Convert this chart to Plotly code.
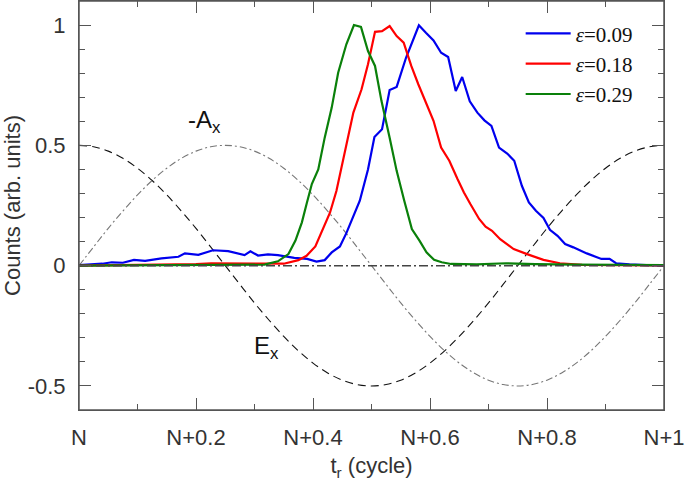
import plotly.graph_objects as go

# ---- data ----
blue_x = [0.00, 0.02, 0.04, 0.056, 0.075, 0.094, 0.113, 0.141, 0.17, 0.181, 0.204, 0.229, 0.255,
          0.283, 0.293, 0.306, 0.323, 0.34, 0.368, 0.39, 0.406, 0.42, 0.432, 0.446, 0.457, 0.48,
          0.494, 0.505, 0.518, 0.531, 0.543, 0.559, 0.581, 0.593, 0.606, 0.619, 0.631, 0.644,
          0.655, 0.668, 0.681, 0.693, 0.705, 0.718, 0.732, 0.744, 0.757, 0.769, 0.781, 0.794,
          0.805, 0.818, 0.831, 0.845, 0.868, 0.893, 0.907, 0.918, 0.941, 0.97, 1.0]
blue_y = [0.002, 0.004, 0.008, 0.014, 0.012, 0.024, 0.02, 0.03, 0.037, 0.051, 0.045, 0.064, 0.06,
          0.044, 0.06, 0.042, 0.047, 0.044, 0.032, 0.028, 0.017, 0.023, 0.055, 0.08, 0.135, 0.27,
          0.40, 0.535, 0.567, 0.73, 0.743, 0.864, 0.999, 0.968, 0.936, 0.885, 0.867, 0.726,
          0.784, 0.683, 0.636, 0.604, 0.581, 0.491, 0.466, 0.436, 0.332, 0.263, 0.228, 0.198,
          0.149, 0.124, 0.09, 0.076, 0.051, 0.028, 0.028, 0.01, 0.005, 0.002, 0.0]

red_x = [0.0, 0.1, 0.2, 0.226, 0.31, 0.35, 0.375, 0.389, 0.404, 0.418, 0.429, 0.44, 0.454, 0.469,
         0.483, 0.494, 0.506, 0.518, 0.531, 0.543, 0.555, 0.568, 0.58, 0.593, 0.606, 0.619, 0.633,
         0.647, 0.658, 0.669, 0.684, 0.695, 0.706, 0.72, 0.743, 0.766, 0.794, 0.822, 0.86, 1.0]
red_y = [0.0, 0.002, 0.006, 0.01, 0.01, 0.008, 0.023, 0.041, 0.08, 0.159, 0.22, 0.31, 0.463, 0.636,
         0.733, 0.837, 0.972, 0.975, 0.996, 0.954, 0.927, 0.83, 0.754, 0.678, 0.602, 0.491, 0.436,
         0.36, 0.304, 0.256, 0.194, 0.162, 0.145, 0.11, 0.069, 0.048, 0.024, 0.01, 0.003, 0.001]

green_x = [0.0, 0.3, 0.317, 0.34, 0.358, 0.37, 0.381, 0.389, 0.398, 0.409, 0.42, 0.432, 0.443,
           0.457, 0.47, 0.482, 0.494, 0.506, 0.517, 0.531, 0.543, 0.556, 0.569, 0.582, 0.594,
           0.607, 0.62, 0.636, 0.68, 0.73, 0.78, 0.85, 0.92, 1.0]
green_y = [0.0, 0.002, 0.004, 0.018, 0.048, 0.104, 0.18, 0.256, 0.339, 0.40, 0.532, 0.657, 0.802,
           0.92, 1.0, 0.992, 0.892, 0.83, 0.685, 0.532, 0.394, 0.27, 0.152, 0.104, 0.055,
           0.024, 0.014, 0.007, 0.005, 0.01, 0.006, 0.004, 0.003, 0.002]

field_x = [0.000, 0.025, 0.050, 0.075, 0.100, 0.125, 0.150, 0.175, 0.200, 0.225, 0.250,
           0.275, 0.300, 0.325, 0.350, 0.375, 0.400, 0.425, 0.450, 0.475, 0.500,
           0.525, 0.550, 0.575, 0.600, 0.625, 0.650, 0.675, 0.700, 0.725, 0.750,
           0.775, 0.800, 0.825, 0.850, 0.875, 0.900, 0.925, 0.950, 0.975, 1.000]
ex_y = [0.500, 0.494, 0.476, 0.446, 0.405, 0.354, 0.294, 0.227, 0.155, 0.078, 0.000,
        -0.078, -0.155, -0.227, -0.294, -0.354, -0.405, -0.446, -0.476, -0.494, -0.500,
        -0.494, -0.476, -0.446, -0.405, -0.354, -0.294, -0.227, -0.155, -0.078, 0.000,
        0.078, 0.155, 0.227, 0.294, 0.354, 0.405, 0.446, 0.476, 0.494, 0.500]
ax_y = [0.000, 0.078, 0.155, 0.227, 0.294, 0.354, 0.405, 0.446, 0.476, 0.494, 0.500,
        0.494, 0.476, 0.446, 0.405, 0.354, 0.294, 0.227, 0.155, 0.078, 0.000,
        -0.078, -0.155, -0.227, -0.294, -0.354, -0.405, -0.446, -0.476, -0.494, -0.500,
        -0.494, -0.476, -0.446, -0.405, -0.354, -0.294, -0.227, -0.155, -0.078, 0.000]

zero_x = [0.0, 1.0]
zero_y = [0.0, 0.0]

series_names = ["<i>ε</i>=0.09", "<i>ε</i>=0.18", "<i>ε</i>=0.29"]
x_tickvals = [0, 0.2, 0.4, 0.6, 0.8, 1.0]
x_ticktext = ["N", "N+0.2", "N+0.4", "N+0.6", "N+0.8", "N+1"]
x_minorvals = [0.1, 0.3, 0.5, 0.7, 0.9]
y_tickvals = [-0.5, 0, 0.5, 1]
y_ticktext = ["-0.5", "0", "0.5", "1"]
y_minorvals = [-0.4, -0.3, -0.2, -0.1, 0.1, 0.2, 0.3, 0.4, 0.6, 0.7, 0.8, 0.9]
x_range = [0, 1]
y_range = [-0.6, 1.1]

fig = go.Figure()
fig.add_trace(go.Scatter(x=field_x, y=ex_y, mode="lines", line=dict(color="#111", width=1.1, dash="8px,5px"),
                         line_shape="spline", showlegend=False, hoverinfo="skip"))
fig.add_trace(go.Scatter(x=field_x, y=ax_y, mode="lines", line=dict(color="#777", width=1.1, dash="7px,3px,2px,3px"),
                         line_shape="spline", showlegend=False, hoverinfo="skip"))
fig.add_trace(go.Scatter(x=blue_x, y=blue_y, mode="lines", name=series_names[0], line=dict(color="#0000ee", width=2.2)))
fig.add_trace(go.Scatter(x=red_x, y=red_y, mode="lines", name=series_names[1], line=dict(color="#ff0000", width=2.2)))
fig.add_trace(go.Scatter(x=green_x, y=green_y, mode="lines", name=series_names[2], line=dict(color="#0a800a", width=2.2)))
fig.add_trace(go.Scatter(x=zero_x, y=zero_y, mode="lines", line=dict(color="#444", width=1.5, dash="9px,3px,2px,3px"),
                         showlegend=False, hoverinfo="skip"))
# invisible traces that carry the top/right tick axes
fig.add_trace(go.Scatter(x=zero_x, y=zero_y, xaxis="x2", yaxis="y2", mode="markers",
                         marker=dict(size=1, opacity=0), showlegend=False, hoverinfo="skip"))
fig.add_trace(go.Scatter(x=zero_x, y=zero_y, xaxis="x3", yaxis="y3", mode="markers",
                         marker=dict(size=1, opacity=0), showlegend=False, hoverinfo="skip"))

tick_font = dict(family="Liberation Sans, Arial", size=22, color="#333")
axis_common = dict(showline=True, linecolor="#555", linewidth=1, ticks="inside",
                   tickcolor="#555", tickwidth=1.2, showgrid=False, zeroline=False,
                   tickfont=tick_font)
minor_ticks = dict(ticks="inside", ticklen=6, dtick=0.1, tick0=0, tickcolor="#555")

fig.update_layout(
    xaxis=dict(range=x_range, tickvals=x_tickvals, ticktext=x_ticktext, minor=minor_ticks, ticklen=12,
               title=dict(text="t<sub>r</sub> (cycle)", font=dict(family="Liberation Sans, Arial", size=22, color="#333"),
                          standoff=8),
               ticklabelstandoff=8, ticklabeloverflow="allow", **axis_common),
    yaxis=dict(range=y_range, tickvals=y_tickvals, ticktext=y_ticktext, minor=minor_ticks, ticklen=12,
               title=dict(text="Counts (arb. units)", font=dict(family="Liberation Sans, Arial", size=22, color="#333"),
                          standoff=6),
               ticklabelstandoff=8, **axis_common),
    xaxis2=dict(range=x_range, tickvals=x_tickvals, ticklen=12, overlaying="x", side="top",
                anchor="y2", showticklabels=False, **axis_common),
    yaxis2=dict(range=y_range, tickvals=y_tickvals, ticklen=12, overlaying="y", side="right",
                anchor="x2", showticklabels=False, **axis_common),
    xaxis3=dict(range=x_range, tickvals=x_minorvals, ticklen=6, overlaying="x", side="top",
                anchor="y3", showticklabels=False, **axis_common),
    yaxis3=dict(range=y_range, tickvals=y_minorvals, ticklen=6, overlaying="y", side="right",
                anchor="x3", showticklabels=False, **axis_common),
)

# frame around the plotting area
fig.add_shape(type="rect", xref="paper", yref="paper", x0=0, x1=1, y0=0, y1=1,
              line=dict(color="#555", width=1.5), layer="above")

fig.add_annotation(x=0.215, y=0.6, text="-A<sub>x</sub>", showarrow=False,
                   font=dict(family="Liberation Sans, Arial", size=24, color="#111"))
fig.add_annotation(x=0.32, y=-0.342, text="E<sub>x</sub>", showarrow=False,
                   font=dict(family="Liberation Sans, Arial", size=24, color="#111"))

fig.update_layout(
    width=685, height=490,
    margin=dict(l=79, r=17, t=1, b=80),
    paper_bgcolor="white", plot_bgcolor="white",
    legend=dict(x=0.755, y=0.97, xanchor="left", yanchor="top", bgcolor="rgba(0,0,0,0)",
                font=dict(family="Liberation Serif, Times New Roman", size=21, color="#111"),
                itemwidth=45, tracegroupgap=0),
)

fig.write_html("out.html", config={"displayModeBar": False},
               post_script="document.body.style.margin='0';document.body.style.padding='0';")
